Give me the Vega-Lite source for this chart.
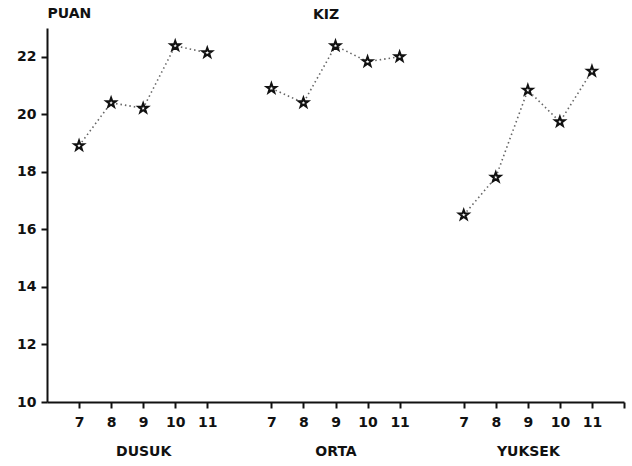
{
  "$schema": "https://vega.github.io/schema/vega-lite/v6.json",
  "width": 577,
  "height": 374,
  "autosize": {"type": "none"},
  "padding": {"left": 47, "top": 28, "right": 8, "bottom": 64},
  "background": "white",
  "config": {
    "view": {"stroke": null},
    "font": "DejaVu Sans",
    "axis": {
      "labelFont": "DejaVu Sans",
      "labelFontWeight": "bold",
      "labelFontSize": 14,
      "labelColor": "#111",
      "domainColor": "#111",
      "domainWidth": 2,
      "tickColor": "#111",
      "tickWidth": 2,
      "tickSize": 6,
      "grid": false
    }
  },
  "title": {
    "text": "KIZ",
    "anchor": "start",
    "frame": "group",
    "dx": 266,
    "dy": 34,
    "baseline": "bottom",
    "fontSize": 14,
    "fontWeight": "bold",
    "font": "DejaVu Sans",
    "color": "#111"
  },
  "data": {
    "values": [
      {"grup": "DUSUK", "yas": 7, "key": "DUSUK-7", "puan": 18.91},
      {"grup": "DUSUK", "yas": 8, "key": "DUSUK-8", "puan": 20.4},
      {"grup": "DUSUK", "yas": 9, "key": "DUSUK-9", "puan": 20.21},
      {"grup": "DUSUK", "yas": 10, "key": "DUSUK-10", "puan": 22.38},
      {"grup": "DUSUK", "yas": 11, "key": "DUSUK-11", "puan": 22.14},
      {"grup": "ORTA", "yas": 7, "key": "ORTA-7", "puan": 20.9},
      {"grup": "ORTA", "yas": 8, "key": "ORTA-8", "puan": 20.4},
      {"grup": "ORTA", "yas": 9, "key": "ORTA-9", "puan": 22.38},
      {"grup": "ORTA", "yas": 10, "key": "ORTA-10", "puan": 21.83},
      {"grup": "ORTA", "yas": 11, "key": "ORTA-11", "puan": 22.0},
      {"grup": "YUKSEK", "yas": 7, "key": "YUKSEK-7", "puan": 16.5},
      {"grup": "YUKSEK", "yas": 8, "key": "YUKSEK-8", "puan": 17.81},
      {"grup": "YUKSEK", "yas": 9, "key": "YUKSEK-9", "puan": 20.84},
      {"grup": "YUKSEK", "yas": 10, "key": "YUKSEK-10", "puan": 19.74},
      {"grup": "YUKSEK", "yas": 11, "key": "YUKSEK-11", "puan": 21.5}
    ]
  },
  "encoding": {
    "x": {
      "field": "key",
      "type": "ordinal",
      "scale": {
        "type": "point",
        "padding": 0,
        "domain": ["s0", "DUSUK-7", "DUSUK-8", "DUSUK-9", "DUSUK-10", "DUSUK-11", "g1", "ORTA-7", "ORTA-8", "ORTA-9", "ORTA-10", "ORTA-11", "g2", "YUKSEK-7", "YUKSEK-8", "YUKSEK-9", "YUKSEK-10", "YUKSEK-11", "s18"]
      },
      "axis": {
        "title": null,
        "values": ["DUSUK-7", "DUSUK-8", "DUSUK-9", "DUSUK-10", "DUSUK-11", "ORTA-7", "ORTA-8", "ORTA-9", "ORTA-10", "ORTA-11", "YUKSEK-7", "YUKSEK-8", "YUKSEK-9", "YUKSEK-10", "YUKSEK-11", "s18"],
        "labelAngle": 0,
        "labelPadding": 7,
        "labelLineHeight": 29,
        "labelExpr": "indexof(datum.value, '-') < 0 ? '' : (split(datum.value, '-')[1] == '9' ? ['9', split(datum.value, '-')[0]] : split(datum.value, '-')[1])"
      }
    },
    "y": {
      "field": "puan",
      "type": "quantitative",
      "scale": {"domain": [10, 23], "nice": false, "zero": false},
      "axis": {
        "values": [10, 12, 14, 16, 18, 20, 22],
        "labelPadding": 5,
        "title": "PUAN",
        "titleAngle": 0,
        "titleAlign": "left",
        "titleBaseline": "bottom",
        "titleX": 0,
        "titleY": -8,
        "titleFont": "DejaVu Sans",
        "titleFontSize": 14,
        "titleFontWeight": "bold",
        "titleColor": "#111"
      }
    }
  },
  "layer": [
    {
      "mark": {"type": "line", "color": "#666", "strokeWidth": 1.6, "strokeDash": [1.5, 3]},
      "encoding": {"detail": {"field": "grup"}}
    },
    {
      "mark": {
        "type": "point",
        "shape": "M0,-1L0.235,-0.324L0.951,-0.309L0.380,0.124L0.588,0.809L0,0.4L-0.588,0.809L-0.380,0.124L-0.951,-0.309L-0.235,-0.324Z",
        "size": 100,
        "filled": true,
        "fill": "white",
        "stroke": "#111",
        "strokeWidth": 2,
        "opacity": 1
      }
    }
  ]
}
